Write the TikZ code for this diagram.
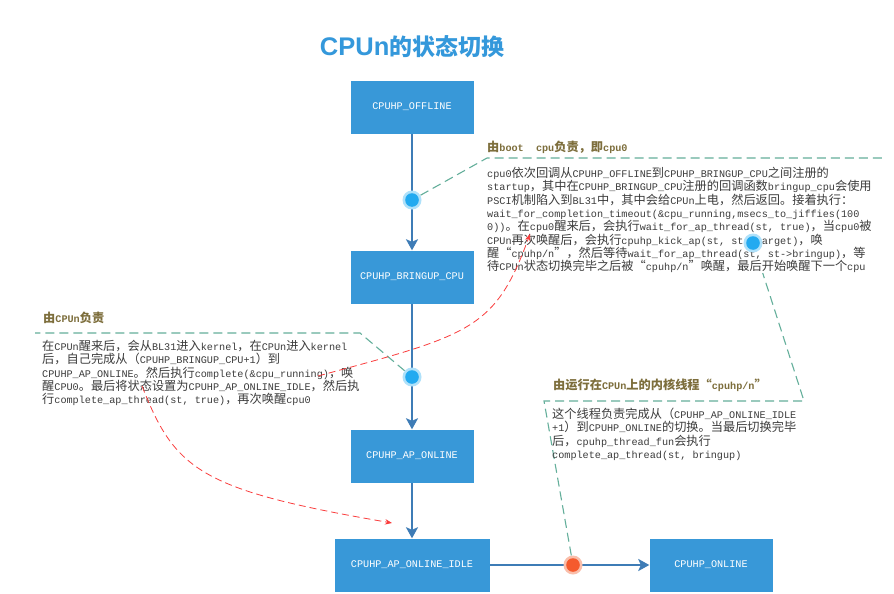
\documentclass[tikz,border=0pt]{standalone}
\usepackage{fontspec}
\usetikzlibrary{arrows.meta}
\newfontfamily\codefont{Liberation Mono}
\newfontfamily\cjkfont[Scale=1.2]{Noto Sans CJK SC}
\newfontfamily\titlelatin{Liberation Sans}
\newfontfamily\titlecjk[Scale=0.9]{Noto Sans CJK SC}

% switch to the CJK family for Chinese characters
\XeTeXinterchartokenstate=1
\newXeTeXintercharclass\cjkclass
\newcount\cjkchar
\newcommand\setcjkrange[2]{%
  \cjkchar=#1\relax
  \loop
    \XeTeXcharclass\cjkchar=\cjkclass
    \advance\cjkchar by 1
  \ifnum\cjkchar<#2\relax\repeat}
\setcjkrange{"4E00}{"A000}
\setcjkrange{"3000}{"3040}
\setcjkrange{"FF00}{"FFF0}
\XeTeXcharclass"201C=\cjkclass
\XeTeXcharclass"201D=\cjkclass
\newcommand\tocjk{\cjkfont}
\newcommand\tolatin{\codefont}
\XeTeXinterchartoks 0 \cjkclass = {\tocjk}
\XeTeXinterchartoks 4095 \cjkclass = {\tocjk}
\XeTeXinterchartoks \cjkclass 0 = {\tolatin}
\XeTeXinterchartoks \cjkclass 4095 = {\tolatin}

\newcommand\bodyfont{\codefont\fontsize{10.17}{13.3}\selectfont}
\newcommand\headfont{\codefont\bfseries\fontsize{10.17}{13.3}\selectfont}
\newcommand\titlefont{\renewcommand\tocjk{\titlecjk}\renewcommand\tolatin{\titlelatin}%
  \titlelatin\bfseries\fontsize{25.5}{30}\selectfont}

\definecolor{boxblue}{RGB}{56,152,216}
\definecolor{flowblue}{RGB}{62,124,182}
\definecolor{calloutteal}{RGB}{100,175,155}
\definecolor{headbrown}{RGB}{125,110,60}
\definecolor{bodygray}{RGB}{60,60,60}
\definecolor{titleblue}{RGB}{52,152,219}
\definecolor{wakered}{RGB}{250,60,60}
\definecolor{haloblue}{RGB}{175,225,250}
\definecolor{dotblue}{RGB}{35,170,240}
\definecolor{haloorange}{RGB}{250,190,170}
\definecolor{dotorange}{RGB}{245,90,45}

\pgfdeclarelayer{background}
\pgfsetlayers{background,main}

\begin{document}
\begin{tikzpicture}[x=1pt, y=-1pt,
    state/.style={fill=boxblue, text=white, minimum width=123pt, minimum height=53pt,
      inner sep=0pt, font=\codefont\fontsize{10.17}{12}\selectfont},
    heading/.style={anchor=west, inner sep=0pt, font=\headfont, text=headbrown},
    note/.style={anchor=north west, align=left, inner sep=0pt, font=\bodyfont, text=bodygray},
    flow/.style={draw=flowblue, line width=2.2pt, -{Stealth[length=11pt,width=12pt,inset=2.5pt]}},
    callout/.style={draw=calloutteal, line width=1.1pt, dash pattern=on 9pt off 5pt},
    wake/.style={draw=wakered, line width=0.8pt, dash pattern=on 7pt off 4pt,
      -{Stealth[length=7pt,width=5.5pt]}},
    bluedot/.style={circle, minimum size=19pt, inner sep=0pt, fill=haloblue,
      path picture={\fill[dotblue] (path picture bounding box.center) circle (6.8pt);}},
    orangedot/.style={circle, minimum size=19pt, inner sep=0pt, fill=haloorange,
      path picture={\fill[dotorange] (path picture bounding box.center) circle (6.8pt);}}]
\useasboundingbox (0,0) rectangle (894,594);

\node[font=\titlefont, text=titleblue] (title) at (412,47) {CPUn的状态切换};

\node[state] (offline) at (412,107) {CPUHP\_OFFLINE};
\node[state] (bringup) at (412,277) {CPUHP\_BRINGUP\_CPU};
\node[state] (aponline) at (412,456) {CPUHP\_AP\_ONLINE};
\node[state, minimum width=155pt] (idle) at (412,565) {CPUHP\_AP\_ONLINE\_IDLE};
\node[state] (online) at (711,565) {CPUHP\_ONLINE};

\node[heading] (headboot) at (487,147) {由boot~~cpu负责，即cpu0};
\node[note, fill=white] (noteboot) at (487,167) {cpu0依次回调从CPUHP\_OFFLINE到CPUHP\_BRINGUP\_CPU之间注册的\\
startup，其中在CPUHP\_BRINGUP\_CPU注册的回调函数bringup\_cpu会使用\\
PSCI机制陷入到BL31中，其中会给CPUn上电，然后返回。接着执行：\\
wait\_for\_completion\_timeout(\&cpu\_running,msecs\_to\_jiffies(100\\
0))。在cpu0醒来后，会执行wait\_for\_ap\_thread(st, true)，当cpu0被\\
CPUn再次唤醒后，会执行cpuhp\_kick\_ap(st, st->target)，唤\\
醒“cpuhp/n”，然后等待wait\_for\_ap\_thread(st, st->bringup)，等\\
待CPUn状态切换完毕之后被“cpuhp/n”唤醒，最后开始唤醒下一个cpu};

\node[heading] (headcpun) at (43,318) {由CPUn负责};
\node[note] (notecpun) at (42,340) {在CPUn醒来后，会从BL31进入kernel，在CPUn进入kernel\\
后，自己完成从（CPUHP\_BRINGUP\_CPU+1）到\\
CPUHP\_AP\_ONLINE。然后执行complete(\&cpu\_running)，唤\\
醒CPU0。最后将状态设置为CPUHP\_AP\_ONLINE\_IDLE，然后执\\
行complete\_ap\_thread(st, true)，再次唤醒cpu0};

\node[heading] (headthread) at (553,385) {由运行在CPUn上的内核线程“cpuhp/n”};
\node[note] (notethread) at (552,408) {这个线程负责完成从（CPUHP\_AP\_ONLINE\_IDLE\\
+1）到CPUHP\_ONLINE的切换。当最后切换完毕\\
后，cpuhp\_thread\_fun会执行\\
complete\_ap\_thread(st, bringup)};

\coordinate (wakefrom) at (318,376);
\coordinate (waketo) at (530,234);
\draw[wake] (wakefrom) .. controls (470,335) and (495,330) .. (waketo);
\coordinate (idlefrom) at (142,386);
\coordinate (idleto) at (392,523);
\draw[wake] (idlefrom) .. controls (175,470) and (200,490) .. (idleto);

\node[bluedot] (dotboot) at (412,200) {};
\node[bluedot] (dotcpun) at (412,377) {};
\node[bluedot] (dotkick) at (753,243) {};
\node[orangedot] (dotthread) at (573,565) {};

\begin{pgfonlayer}{background}
\fill[white] (0,0) rectangle (894,594);
\draw[flow] (offline) -- (bringup);
\draw[flow] (bringup) -- (aponline);
\draw[flow] (aponline) -- (idle);
\draw[flow] (idle) -- (online);
\coordinate (bootcorner) at (487,158);
\coordinate (bootend) at (885,158);
\draw[callout] (dotboot) -- (bootcorner) -- (bootend);
\coordinate (cpuncorner) at (360,333);
\coordinate (cpunend) at (35,333);
\draw[callout] (dotcpun) -- (cpuncorner) -- (cpunend);
\coordinate (threadleft) at (544,401);
\coordinate (threadright) at (804,401);
\draw[callout] (dotthread) -- (threadleft) -- (threadright) -- (dotkick);
\end{pgfonlayer}
\end{tikzpicture}
\end{document}
